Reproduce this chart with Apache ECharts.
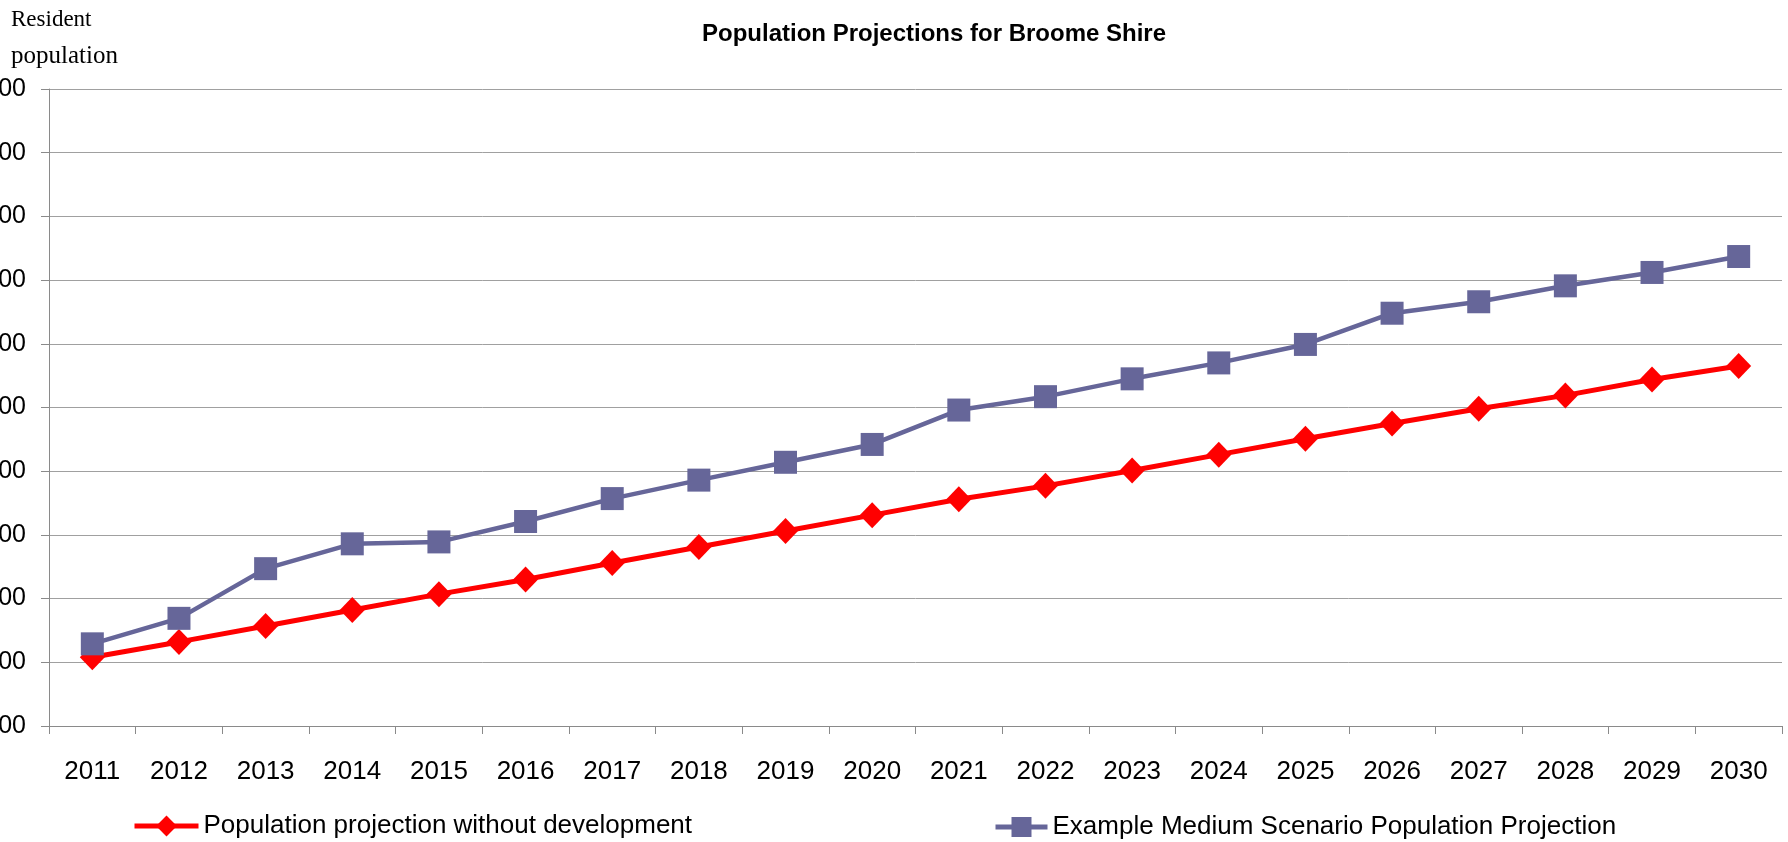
<!DOCTYPE html>
<html>
<head>
<meta charset="utf-8">
<script src="https://cdn.jsdelivr.net/npm/echarts@6/dist/echarts.min.js"></script>
<style>
html,body{margin:0;padding:0;background:#fff;}
#chart{width:1788px;height:842px;}
</style>
</head>
<body>
<div id="chart"></div>
<script>
const years = ['2011','2012','2013','2014','2015','2016','2017','2018','2019','2020','2021','2022','2023','2024','2025','2026','2027','2028','2029','2030'];
const withoutDevelopment = [16080,16320,16570,16820,17070,17300,17560,17810,18060,18310,18560,18770,19010,19260,19510,19750,19980,20190,20440,20650];
const mediumScenario = [16290,16690,17470,17860,17890,18210,18570,18860,19140,19420,19960,20170,20450,20700,20990,21480,21660,21910,22120,22370];
const seriesNames = ['Population projection without development','Example Medium Scenario Population Projection'];
const titleText = 'Population Projections for Broome Shire';
const yAxisTitle = ['Resident','population'];
const yMin = 15000, yMax = 25000, yStep = 1000;

const sans = '"Liberation Sans", Arial, sans-serif';
const chart = echarts.init(document.getElementById('chart'));
chart.setOption({
  animation: false,
  backgroundColor: '#ffffff',
  grid: {left: 49, right: 6, top: 89, bottom: 116, containLabel: false, outerBoundsMode: 'none'},
  graphic: [
    {type: 'text', x: 934, y: 34, style: {text: titleText, font: 'bold 24px ' + sans, fill: '#000', textAlign: 'center', textVerticalAlign: 'middle'}},
    {type: 'text', x: 11, y: 20, style: {text: yAxisTitle[0], font: '23px "Liberation Serif", serif', fill: '#000', textAlign: 'left', textVerticalAlign: 'middle'}},
    {type: 'text', x: 11, y: 56, style: {text: yAxisTitle[1], font: '25px "Liberation Serif", serif', fill: '#000', textAlign: 'left', textVerticalAlign: 'middle'}}
  ],
  legend: [
    {data: [seriesNames[0]], left: 127, top: 808, itemWidth: 64, itemHeight: 26, itemGap: 0, selectedMode: false,
     lineStyle: {width: 5}, textStyle: {fontFamily: sans, fontSize: 26, color: '#000'}},
    {data: [seriesNames[1]], left: 988, top: 809, itemWidth: 52, itemHeight: 25, itemGap: 0, selectedMode: false,
     lineStyle: {width: 5}, textStyle: {fontFamily: sans, fontSize: 26, color: '#000'}}
  ],
  xAxis: {
    type: 'category', data: years, boundaryGap: true,
    axisLine: {lineStyle: {color: '#8a8a8a', width: 1}},
    axisTick: {show: true, length: 8, alignWithLabel: false, lineStyle: {color: '#8a8a8a'}},
    axisLabel: {color: '#000', fontFamily: sans, fontSize: 26, margin: 33, interval: 0},
    splitLine: {show: false}
  },
  yAxis: {
    type: 'value', min: yMin, max: yMax, interval: yStep,
    axisLine: {show: true, lineStyle: {color: '#8a8a8a', width: 1}},
    axisTick: {show: true, length: 8, lineStyle: {color: '#8a8a8a'}},
    axisLabel: {color: '#000', fontFamily: sans, fontSize: 25, margin: 23,
      formatter: v => v.toLocaleString('en-US')},
    splitLine: {show: true, lineStyle: {color: '#a0a0a0', width: 1}}
  },
  series: [
    {name: seriesNames[0], type: 'line', data: withoutDevelopment, symbol: 'diamond', symbolSize: [25,26],
     lineStyle: {color: '#ff0000', width: 5}, itemStyle: {color: '#ff0000'}},
    {name: seriesNames[1], type: 'line', data: mediumScenario, symbol: 'rect', symbolSize: 23,
     lineStyle: {color: '#666699', width: 4.5}, itemStyle: {color: '#666699'}}
  ]
});
</script>
</body>
</html>
